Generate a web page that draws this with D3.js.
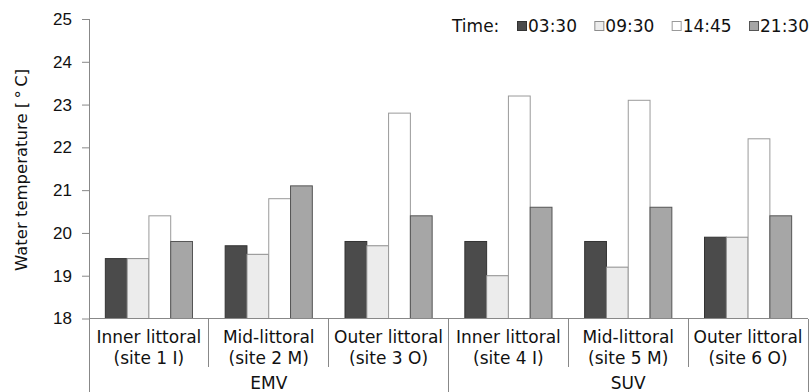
<!DOCTYPE html>
<html>
<head>
<meta charset="utf-8">
<script src="https://cdn.jsdelivr.net/npm/d3@7"></script>
<style>
  body { margin: 0; background: #fff; }
  svg { display: block; font-family: "DejaVu Sans", sans-serif; }
  .axis text { font-size: 17px; fill: #111; }
  .axis path, .axis line { stroke: #888; }
</style>
</head>
<body>
<div id="chart"></div>
<script>
// site labels (two lines each) and their group
const siteNames = ["Inner littoral", "Mid-littoral", "Outer littoral", "Inner littoral", "Mid-littoral", "Outer littoral"];
const siteCodes = ["(site 1 I)", "(site 2 M)", "(site 3 O)", "(site 4 I)", "(site 5 M)", "(site 6 O)"];
const siteGroups = ["EMV", "EMV", "EMV", "SUV", "SUV", "SUV"];
const groups = ["EMV", "SUV"];

const times = ["03:30", "09:30", "14:45", "21:30"];
// water temperature per site, one array per time
const temp0330 = [19.4, 19.7, 19.8, 19.8, 19.8, 19.9];
const temp0930 = [19.4, 19.5, 19.7, 19.0, 19.2, 19.9];
const temp1445 = [20.4, 20.8, 22.8, 23.2, 23.1, 22.2];
const temp2130 = [19.8, 21.1, 20.4, 20.6, 20.6, 20.4];
const yTicks = [18, 19, 20, 21, 22, 23, 24, 25];

const series = [temp0330, temp0930, temp1445, temp2130];
const fills = ["#4b4b4b", "#ececec", "#ffffff", "#a6a6a6"];
const strokes = ["#333333", "#8c8c8c", "#9a9a9a", "#555555"];

const W = 810, H = 392;
const plotLeft = 89, plotRight = 808, plotTop = 19, plotBottom = 318.5;

const svg = d3.select("#chart").append("svg")
  .attr("width", W)
  .attr("height", H);

const siteIdx = d3.range(siteNames.length);

const x0 = d3.scaleBand()
  .domain(siteIdx)
  .range([plotLeft, plotRight])
  .padding(0);

const x1 = d3.scaleBand()
  .domain(times)
  .range([0, x0.bandwidth()])
  .paddingInner(0)
  .paddingOuter(0.75);

const y = d3.scaleLinear()
  .domain([18, 25])
  .range([plotBottom, plotTop]);

// bars
const barData = [];
siteIdx.forEach(i => {
  times.forEach((t, k) => {
    barData.push({ site: i, time: t, k: k, value: series[k][i] });
  });
});

svg.append("g")
  .selectAll("rect")
  .data(barData)
  .enter()
  .append("rect")
    .attr("x", d => x0(d.site) + x1(d.time))
    .attr("y", d => y(d.value))
    .attr("width", x1.bandwidth())
    .attr("height", d => y(18) - y(d.value))
    .attr("fill", d => fills[d.k])
    .attr("stroke", d => strokes[d.k])
    .attr("stroke-width", 1);

// y axis
const yAxis = svg.append("g")
  .attr("class", "axis")
  .attr("transform", `translate(${plotLeft},0)`)
  .call(d3.axisLeft(y).tickValues(yTicks).tickSize(7).tickSizeOuter(0).tickPadding(10).tickFormat(d3.format("d")));
yAxis.select(".domain").remove();

const lines = svg.append("g")
  .attr("stroke", "#888")
  .attr("stroke-width", 1)
  .attr("shape-rendering", "crispEdges");

// axis lines
lines.append("line")
  .attr("x1", plotLeft).attr("x2", plotLeft)
  .attr("y1", y(25)).attr("y2", H);
lines.append("line")
  .attr("x1", plotLeft).attr("x2", plotRight)
  .attr("y1", y(18)).attr("y2", y(18));

// separators between sites
siteIdx.slice(1).forEach(i => {
  const isGroupEdge = siteGroups[i] !== siteGroups[i - 1];
  lines.append("line")
    .attr("x1", x0(i)).attr("x2", x0(i))
    .attr("y1", y(18)).attr("y2", isGroupEdge ? H : 367);
});
lines.append("line")
  .attr("x1", plotRight).attr("x2", plotRight)
  .attr("y1", y(18)).attr("y2", H);

// site labels
const labels = svg.append("g")
  .attr("font-size", 17)
  .attr("fill", "#111")
  .attr("text-anchor", "middle");

siteIdx.forEach(i => {
  const cx = x0(i) + x0.bandwidth() / 2;
  labels.append("text").attr("x", cx).attr("y", 342.5).text(siteNames[i]);
  labels.append("text").attr("x", cx).attr("y", 364).text(siteCodes[i]);
});

// group labels
groups.forEach(g => {
  const members = siteIdx.filter(i => siteGroups[i] === g);
  const gx0 = x0(members[0]);
  const gx1 = x0(members[members.length - 1]) + x0.bandwidth();
  labels.append("text")
    .attr("x", (gx0 + gx1) / 2)
    .attr("y", 388.5)
    .text(g);
});

// y axis title
svg.append("text")
  .attr("transform", "translate(27,170) rotate(-90)")
  .attr("text-anchor", "middle")
  .attr("font-size", 16.5)
  .attr("fill", "#111")
  .text("Water temperature [\u2009°\u2009C]");

// legend
const legend = svg.append("g").attr("font-size", 17).attr("fill", "#111");
legend.append("text")
  .attr("x", 452).attr("y", 31.5)
  .text("Time:");

const legendX = d3.scalePoint()
  .domain(times)
  .range([517, 749]);

times.forEach((t, k) => {
  legend.append("rect")
    .attr("x", legendX(t) + 0.5).attr("y", 21.5)
    .attr("width", 9).attr("height", 9)
    .attr("fill", fills[k])
    .attr("stroke", strokes[k]);
  legend.append("text")
    .attr("x", legendX(t) + 11)
    .attr("y", 31.5)
    .text(t);
});
</script>
</body>
</html>
